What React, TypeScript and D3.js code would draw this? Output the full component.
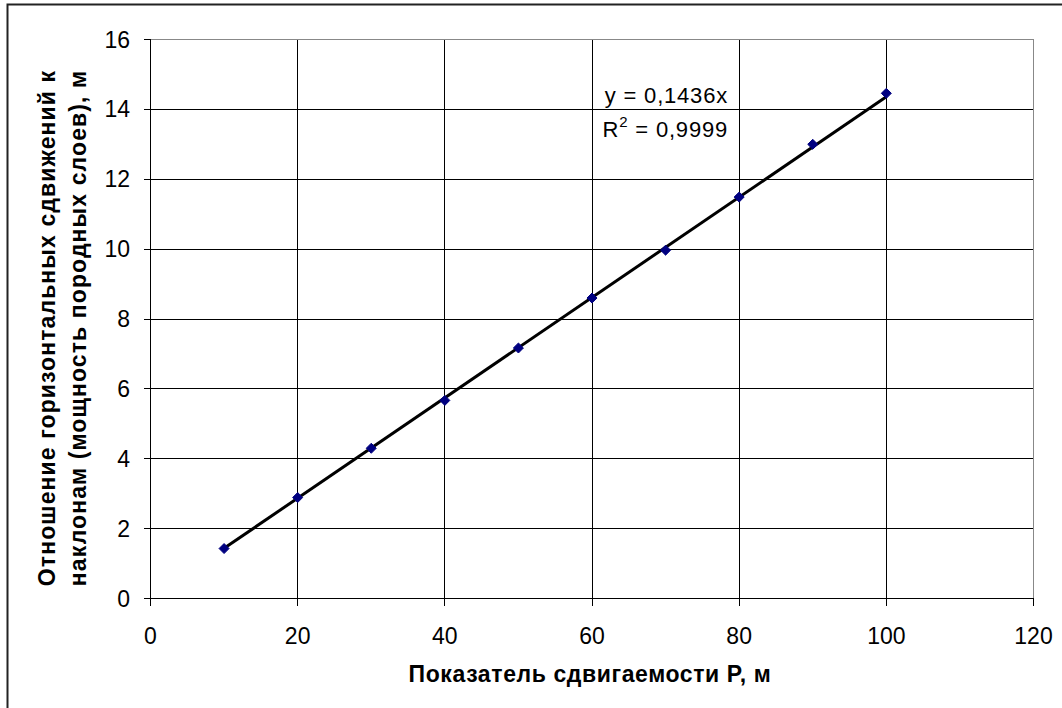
import React, { useEffect, useRef } from "react"
import * as d3 from "d3"

const pValues = [10, 20, 30, 40, 50, 60, 70, 80, 90, 100]
const ratios = [1.43, 2.89, 4.3, 5.67, 7.17, 8.6, 9.97, 11.49, 13.0, 14.46]
const xTicks = [0, 20, 40, 60, 80, 100, 120]
const yTicks = [0, 2, 4, 6, 8, 10, 12, 14, 16]
const slope = 0.1436
const eqLines = ["y = 0,1436x", "0,9999"]

const W = 1062, H = 708
const left = 150.5, right = 1033.5, top = 39.5, bottom = 598.5
const font = "'Liberation Sans', Arial, sans-serif"

export default function App() {
	const ref = useRef<SVGSVGElement>(null)

	useEffect(() => {
		const svg = d3.select(ref.current)
		svg.selectAll("*").remove()

		const x = d3.scaleLinear().domain([0, 120]).range([left, right])
		const y = d3.scaleLinear().domain([0, 16]).range([bottom, top])

		svg.append("rect").attr("width", W).attr("height", H).attr("fill", "#fff")
		// outer chart frame (runs past right/bottom of the picture)
		svg.append("rect").attr("x", 7.5).attr("y", 4.5)
			.attr("width", W + 20).attr("height", H + 20)
			.attr("fill", "none").attr("stroke", "#222").attr("stroke-width", 2)

		const grid = svg.append("g").attr("shape-rendering", "crispEdges")
		grid.selectAll(".gy").data(yTicks.slice(1)).enter().append("line")
			.attr("x1", left).attr("x2", right)
			.attr("y1", d => y(d)).attr("y2", d => y(d))
			.attr("stroke", d => d === 16 ? "#888" : "#000")
		grid.selectAll(".gx").data(xTicks.slice(1)).enter().append("line")
			.attr("y1", top).attr("y2", bottom)
			.attr("x1", d => x(d)).attr("x2", d => x(d))
			.attr("stroke", d => d === 120 ? "#888" : "#000")

		// axes
		const axes = svg.append("g").attr("shape-rendering", "crispEdges").attr("stroke", "#000")
		axes.append("line").attr("x1", left).attr("x2", left).attr("y1", top).attr("y2", bottom)
		axes.append("line").attr("x1", left).attr("x2", right).attr("y1", bottom).attr("y2", bottom)
		axes.selectAll(".ty").data(yTicks).enter().append("line")
			.attr("x1", left - 7).attr("x2", left).attr("y1", d => y(d)).attr("y2", d => y(d))
		axes.selectAll(".tx").data(xTicks).enter().append("line")
			.attr("x1", d => x(d)).attr("x2", d => x(d)).attr("y1", bottom).attr("y2", bottom + 7)

		svg.append("g").selectAll("text").data(yTicks).enter().append("text")
			.attr("x", 130).attr("y", d => y(d) + 8)
			.attr("text-anchor", "end").attr("font-family", font).attr("font-size", 23)
			.text(d => d)
		svg.append("g").selectAll("text").data(xTicks).enter().append("text")
			.attr("x", d => x(d)).attr("y", 644)
			.attr("text-anchor", "middle").attr("font-family", font).attr("font-size", 23)
			.text(d => d)

		// trend line
		const ext = d3.extent(pValues) as [number, number]
		svg.append("path")
			.datum(ext)
			.attr("d", d3.line<number>().x(d => x(d)).y(d => y(slope * d)))
			.attr("stroke", "#000").attr("stroke-width", 3).attr("fill", "none")

		// markers
		const sym = d3.symbol().type(d3.symbolDiamond2).size(64)
		svg.append("g").selectAll("path").data(pValues).enter().append("path")
			.attr("d", sym)
			.attr("transform", (d, i) => `translate(${x(d)},${y(ratios[i])})`)
			.attr("fill", "#000080").attr("stroke", "#000080").attr("stroke-width", 1)

		// equation
		const eq = svg.append("g").attr("font-family", font).attr("font-size", 22)
			.attr("letter-spacing", 0.8).attr("text-anchor", "end")
		eq.append("text").attr("x", 728).attr("y", 103).text(eqLines[0])
		const r2 = eq.append("text").attr("x", 728).attr("y", 137)
		r2.append("tspan").text("R")
		r2.append("tspan").attr("dy", -10).attr("font-size", 15).text("2")
		r2.append("tspan").attr("dy", 10).text(" = " + eqLines[1])

		// axis titles
		svg.append("text")
			.attr("x", 590).attr("y", 682)
			.attr("text-anchor", "middle").attr("font-family", font)
			.attr("font-size", 23).attr("font-weight", "bold").attr("letter-spacing", 0.6)
			.text("Показатель сдвигаемости P, м")
		const yt = svg.append("text")
			.attr("transform", "translate(55,328) rotate(-90)")
			.attr("text-anchor", "middle").attr("font-family", font)
			.attr("font-size", 23).attr("font-weight", "bold").attr("letter-spacing", 1.1)
		yt.append("tspan").attr("x", 0).attr("y", 0).text("Отношение горизонтальных сдвижений к")
		yt.append("tspan").attr("x", 0).attr("y", 31).text("наклонам (мощность породных слоев), м")
	}, [])

	return (
		<svg ref={ref} width={W} height={H}
			style={{ position: "absolute", left: 0, top: 0, display: "block" }} />
	)
}
